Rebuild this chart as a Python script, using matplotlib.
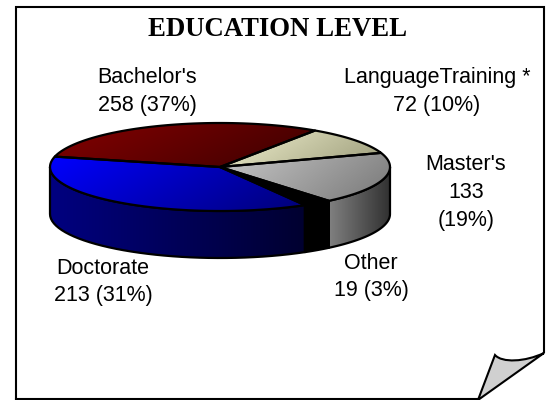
import numpy as np
import matplotlib
matplotlib.use('Agg')
import matplotlib.pyplot as plt
from matplotlib.patches import Polygon, PathPatch
from matplotlib.path import Path

title = 'EDUCATION LEVEL'
# clockwise from the top right; the blue slice is the 258 one in the picture
categories = ['LanguageTraining *', "Master's", 'Other', 'blue slice', 'red slice']
counts = [72, 133, 19, 258, 213]
labels = ['LanguageTraining *\n72 (10%)', "Master's\n133\n(19%)", 'Other\n19 (3%)',
          'Doctorate\n213 (31%)', "Bachelor's\n258 (37%)"]
label_pos = [(437, 91.5), (466, 192.5), (371, 277), (103, 282), (147, 91.5)]
top_cols = [('#f2f2d0', '#9c9c7a'), ('#c8c8c8', '#787878'), ('#000000', '#000000'),
            ('#0000ff', '#000078'), ('#840000', '#3c0000')]
side_cols = [('#a0a088', '#606050'), ('#808080', '#303030'), ('#000000', '#000000'),
             ('#000080', '#000030'), ('#800000', '#400000')]

# pie geometry in pixels
cx, cy, a, b, depth = 220, 167, 170, 44, 47
start = 56

fig = plt.figure(figsize=(5.47, 4), dpi=100)
ax = fig.add_axes([0, 0, 1, 1])


def rim(t):
    t = np.radians(t)
    return np.column_stack([cx + a * np.cos(t), cy - b * np.sin(t)])


def gradient(verts, c1, c2, diag=0.0, z=2):
    grad = matplotlib.colors.LinearSegmentedColormap.from_list('g', [c1, c2])
    xs, ys = np.meshgrid(np.linspace(0, 1, 200), np.linspace(0, 1, 200))
    x0, y0 = verts.min(axis=0)
    x1, y1 = verts.max(axis=0)
    im = ax.imshow((xs + diag * ys) / (1 + diag), cmap=grad, extent=(x0, x1, y1, y0),
                   aspect='auto', zorder=z, interpolation='bilinear')
    poly = Polygon(verts, closed=True, transform=ax.transData)
    im.set_clip_path(poly)
    ax.add_patch(Polygon(verts, closed=True, fc='none', ec='black', lw=1.6,
                         joinstyle='round', zorder=z + 0.5))


edges = start - np.concatenate([[0], np.cumsum(counts)]) / sum(counts) * 360

# side wall first, then the top faces
for i in range(len(counts)):
    lo = max(edges[i + 1], -180)
    hi = min(edges[i], 0)
    if hi <= lo:
        continue
    arc = rim(np.linspace(hi, lo, 40))
    verts = np.vstack([arc, arc[::-1] + [0, depth]])
    gradient(verts, side_cols[i][0], side_cols[i][1], z=2)

for i in range(len(counts)):
    arc = rim(np.linspace(edges[i], edges[i + 1], 60))
    verts = np.vstack([[cx, cy], arc])
    gradient(verts, top_cols[i][0], top_cols[i][1], diag=0.35, z=4)

# page outline with curled corner
page = Path([(16, 400), (16, 7), (544, 7), (544, 353)],
            [Path.MOVETO, Path.LINETO, Path.LINETO, Path.LINETO])
ax.add_patch(PathPatch(page, fc='none', ec='black', lw=1.5, zorder=6))
ax.plot([16, 478], [399.2, 399.2], color='black', lw=1.5, zorder=6)
curl = Path([(478, 400), (495, 355), (502, 363), (525, 362), (544, 353), (478, 400)],
            [Path.MOVETO, Path.LINETO, Path.CURVE4, Path.CURVE4, Path.CURVE4, Path.LINETO])
ax.add_patch(PathPatch(curl, fc='#d0d0d0', ec='black', lw=1.5, zorder=6))

ax.text(278, 29, title, family='Liberation Serif', weight='bold', fontsize=19.3,
        ha='center', va='center', zorder=7)
for (x, y), s in zip(label_pos, labels):
    ax.text(x, y, s, family='Liberation Sans', fontsize=15.5, ha='center', va='center',
            linespacing=1.41, zorder=7)

ax.set_xlim(0, 547)
ax.set_ylim(400, 0)
ax.axis('off')
fig.savefig('out.png', dpi=100)
